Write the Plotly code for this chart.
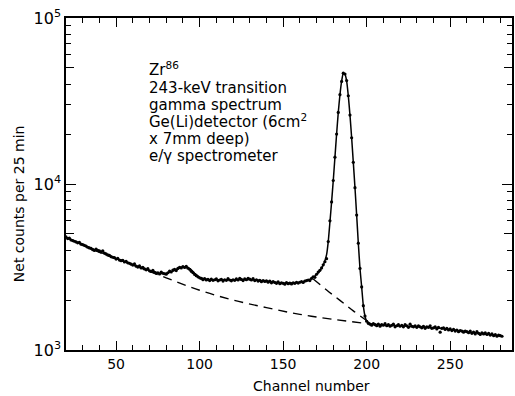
import plotly.graph_objects as go

# Measured spectrum: one count per channel, channels 20..281
channels = list(range(20, 282))
counts = [
    4800, 4690, 4720, 4600, 4560, 4520, 4480, 4420, 4450, 4340,   # 20-29
    4310, 4270, 4230, 4160, 4120, 4090, 4020, 3980, 4060, 3990,   # 30-39
    3950, 3900, 3960, 3840, 3790, 3740, 3720, 3650, 3620, 3600,   # 40-49
    3530, 3560, 3480, 3450, 3470, 3390, 3420, 3350, 3330, 3290,   # 50-59
    3250, 3300, 3200, 3160, 3210, 3120, 3150, 3080, 3040, 3090,   # 60-69
    3000, 2970, 3020, 2940, 2900, 2920, 2870, 2950, 2900, 2880,   # 70-79
    2860, 2920, 2990, 2950, 3030, 3060, 3010, 3100, 3150, 3120,   # 80-89
    3180, 3140, 3190, 3110, 3060, 2980, 2920, 2850, 2800, 2760,   # 90-99
    2720, 2700, 2650, 2690, 2640, 2660, 2620, 2670, 2630, 2650,   # 100-109
    2680, 2610, 2640, 2660, 2600, 2650, 2630, 2690, 2640, 2610,   # 110-119
    2650, 2630, 2680, 2640, 2700, 2660, 2620, 2680, 2650, 2700,   # 120-129
    2670, 2640, 2690, 2620, 2650, 2600, 2630, 2580, 2620, 2590,   # 130-139
    2610, 2560, 2600, 2540, 2580, 2550, 2520, 2570, 2510, 2540,   # 140-149
    2520, 2490, 2550, 2510, 2530, 2500, 2540, 2520, 2560, 2530,   # 150-159
    2560, 2580, 2550, 2600, 2620, 2640, 2620, 2700, 2760, 2740,   # 160-169
    2860, 2950, 3020, 3120, 3260, 3400, 3550, 4500, 6000, 7800,   # 170-179
    10500, 14500, 20000, 27000, 34500, 41500, 46500, 46000, 42000, 34000,  # 180-189
    26000, 19000, 13500, 9500, 6500, 4400, 3100, 2400, 1850, 1600,  # 190-199
    1490, 1450, 1430, 1410, 1440, 1420, 1400, 1430, 1390, 1420,   # 200-209
    1410, 1440, 1400, 1420, 1390, 1410, 1430, 1380, 1400, 1420,   # 210-219
    1390, 1410, 1380, 1420, 1400, 1370, 1430, 1390, 1380, 1400,   # 220-229
    1370, 1400, 1380, 1360, 1390, 1350, 1380, 1370, 1400, 1350,   # 230-239
    1360, 1380, 1340, 1370, 1280, 1350, 1360, 1330, 1350, 1320,   # 240-249
    1340, 1310, 1330, 1300, 1320, 1290, 1310, 1300, 1280, 1300,   # 250-259
    1290, 1270, 1300, 1260, 1280, 1250, 1290, 1260, 1240, 1270,   # 260-269
    1250, 1270, 1240, 1260, 1230, 1250, 1220, 1240, 1210, 1230,   # 270-279
    1220, 1210,                                                   # 280-281
]

# Fitted curve through the spectrum
fit_channels = [20, 30, 40, 50, 60, 70, 76, 80, 84, 88, 91, 94, 97, 100, 105, 110,
                120, 130, 140, 150, 158, 163, 167, 170, 172, 174, 175, 176, 177, 178,
                179, 180, 181, 182, 183, 184, 185, 186, 187, 188, 189, 190, 191, 192,
                193, 194, 195, 196, 197, 198, 199, 200, 202, 210, 220, 230, 240, 250,
                260, 270, 281]
fit_counts = [4780, 4310, 3900, 3550, 3260, 3010, 2900, 2900, 2990, 3120, 3160, 3100,
              2900, 2740, 2660, 2640, 2650, 2660, 2600, 2530, 2540, 2600, 2700, 2850,
              3000, 3250, 3450, 3750, 4500, 5900, 7800, 10500, 14500, 20000, 27000,
              34500, 41500, 46300, 45800, 41800, 34000, 26000, 19000, 13500, 9500, 6500,
              4400, 3100, 2400, 1850, 1600, 1490, 1440, 1415, 1400, 1380, 1360, 1330,
              1290, 1250, 1215]

# Continuum background (long dashes)
bg_channels = [20, 40, 60, 80, 100, 120, 140, 160, 180, 203]
bg_counts = [4780, 3880, 3260, 2720, 2290, 2000, 1800, 1640, 1530, 1430]

# Step under the photopeak (long dashes)
step_channels = [168, 176, 184, 192, 201]
step_counts = [2680, 2300, 1990, 1720, 1480]

x_major = [50, 100, 150, 200, 250]
x_minor = [c for c in range(30, 290, 10) if c % 50 != 0]
y_major = [1e3, 1e4, 1e5]
y_major_text = ["10<sup>3</sup>", "10<sup>4</sup>", "10<sup>5</sup>"]
y_half = [5e3, 5e4]
y_minor = [2e3, 3e3, 4e3, 6e3, 7e3, 8e3, 9e3,
           2e4, 3e4, 4e4, 6e4, 7e4, 8e4, 9e4]

legend_lines = [
    ("Zr<sup>86</sup>", 69),
    ("243-keV transition", 87.5),
    ("gamma spectrum", 104.5),
    ("Ge(Li)detector (6cm<sup>2</sup>", 121),
    ("x 7mm deep)", 138.5),
    ("e/γ spectrometer", 156),
]

FONT = "DejaVu Sans"
W, H = 515, 396
L, R, T, B = 66, 514, 18, 350

fig = go.Figure()
fig.add_trace(go.Scatter(x=bg_channels, y=bg_counts, mode="lines",
                         line=dict(color="black", width=1.4, dash="9px,6px", shape="spline"),
                         hoverinfo="skip"))
fig.add_trace(go.Scatter(x=step_channels, y=step_counts, mode="lines",
                         line=dict(color="black", width=1.4, dash="9px,6px", shape="spline"),
                         hoverinfo="skip"))
fig.add_trace(go.Scatter(x=fit_channels, y=fit_counts, mode="lines",
                         line=dict(color="black", width=1.5, shape="spline", smoothing=0.6)))
fig.add_trace(go.Scatter(x=channels, y=counts, mode="markers",
                         marker=dict(color="black", size=3.2)))
# empty trace that anchors the mid-decade tick axis
fig.add_trace(go.Scatter(x=[None], y=[None], yaxis="y2", mode="lines",
                         hoverinfo="skip"))

for text, py in legend_lines:
    fig.add_annotation(xref="paper", yref="paper",
                       x=(148 - L) / (R - L), y=(B - py) / (B - T),
                       xanchor="left", yanchor="middle", showarrow=False, borderpad=0,
                       text=text, font=dict(family=FONT, size=15, color="black"))

# Axis titles
fig.add_annotation(xref="paper", yref="paper",
                   x=(313 - L) / (R - L), y=(B - 386) / (B - T),
                   xanchor="center", yanchor="middle", showarrow=False,
                   text="Channel number", font=dict(family=FONT, size=14, color="black"))
fig.add_annotation(xref="paper", yref="paper",
                   x=(19 - L) / (R - L), y=(B - 204) / (B - T),
                   xanchor="center", yanchor="middle", showarrow=False, textangle=-90,
                   text="Net counts per 25 min", font=dict(family=FONT, size=14, color="black"))

tick_style = dict(ticks="inside", tickwidth=1.3, tickcolor="black",
                  showgrid=False, zeroline=False)
minor_style = dict(tickmode="array", ticks="inside", ticklen=5, tickwidth=1.2,
                   tickcolor="black", showgrid=False)

fig.update_layout(
    xaxis=dict(range=[20, 287], tickmode="array", tickvals=x_major, ticklen=9,
               showline=True, linecolor="black", linewidth=1.5, mirror="ticks",
               tickfont=dict(family=FONT, size=14, color="black"),
               minor=dict(tickvals=x_minor, **minor_style), **tick_style),
    yaxis=dict(type="log", range=[3, 5], tickmode="array", tickvals=y_major,
               ticktext=y_major_text, ticklen=10,
               showline=True, linecolor="black", linewidth=1.5, mirror="ticks",
               tickfont=dict(family=FONT, size=16, color="black"),
               minor=dict(tickvals=y_minor, **minor_style), **tick_style),
    # second log axis that only carries the mid-decade (5x) ticks
    yaxis2=dict(type="log", range=[3, 5], overlaying="y", side="left",
                tickmode="array", tickvals=y_half, ticklen=8, showticklabels=False,
                showline=False, mirror="ticks", **tick_style),
    width=W, height=H, showlegend=False,
    margin=dict(l=L, r=W - R, t=T, b=H - B),
    plot_bgcolor="white", paper_bgcolor="white",
    font=dict(family=FONT, color="black"),
)

fig.write_html("out.html")
